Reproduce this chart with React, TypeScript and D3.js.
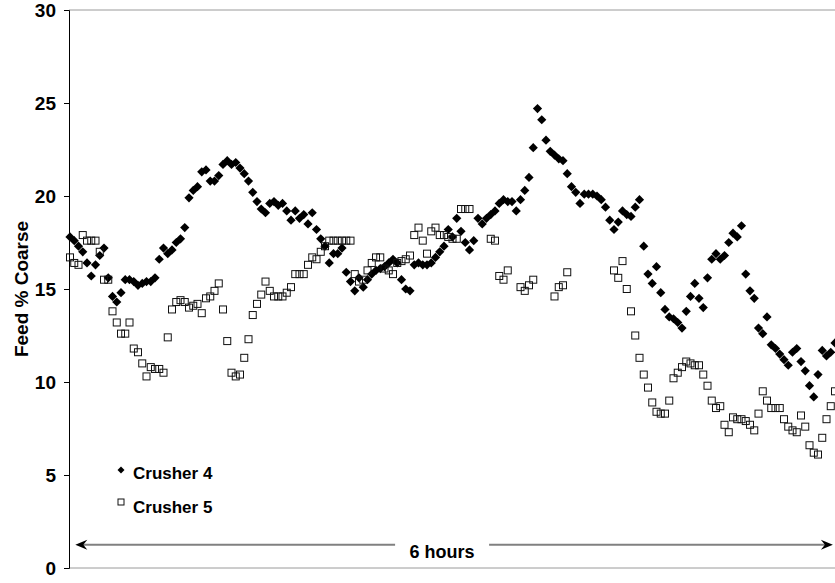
import React, { useEffect, useRef } from "react";
import * as d3 from "d3";

// one reading every 2 minutes over the 6 hour run
const sampleMinutes = 2;
const runMinutes = 360;

const yTicks = [0, 5, 10, 15, 20, 25, 30];

const seriesNames = ["Crusher 4", "Crusher 5"];

// Feed % coarse, Crusher 4
const crusher4 = [
  17.8, 17.6, 17.3, 17.0, 16.4, 15.7, 16.3, 16.8, 17.2, 15.6,
  14.6, 14.3, 14.8, 15.5, 15.5, 15.4, 15.2, 15.3, 15.4, 15.4,
  15.6, 16.6, 17.2, 16.9, 17.1, 17.5, 17.7, 18.3, 19.9, 20.3,
  20.5, 21.3, 21.4, 20.8, 20.8, 21.1, 21.7, 21.9, 21.7, 21.8,
  21.5, 21.2, 20.8, 20.2, 19.7, 19.3, 19.1, 19.6, 19.7, 19.5,
  19.6, 19.2, 18.7, 19.2, 18.8, 19.0, 18.5, 19.1, 18.2, 17.7,
  17.3, 16.4, 16.9, 16.9, 17.2, 15.9, 15.4, 14.9, 15.6, 15.1,
  15.5, 15.8, 16.0, 16.1, 16.2, 16.4, 16.6, 16.4, 15.5, 15.0,
  14.9, 16.3, 16.4, 16.3, 16.3, 16.4, 16.7, 17.0, 17.3, 18.2,
  17.8, 18.8, 18.1, 17.5, 17.1, 17.6, 18.8, 18.5, 18.8, 19.0,
  19.2, 19.6, 19.8, 19.7, 19.7, 19.2, 19.8, 20.3, 21.0, 22.6,
  24.7, 24.1, 23.0, 22.4, 22.2, 22.0, 21.9, 21.2, 20.5, 20.2,
  19.6, 20.1, 20.1, 20.1, 20.0, 19.8, 19.4, 18.7, 18.2, 18.6,
  19.2, 19.0, 18.9, 19.4, 19.8, 17.3, 15.8, 15.3, 16.2, 14.8,
  13.9, 13.5, 13.4, 13.2, 12.9, 13.8, 14.6, 15.3, 14.5, 14.0,
  15.6, 16.6, 16.9, 16.6, 16.8, 17.5, 18.0, 17.8, 18.4, 15.8,
  14.9, 14.5, 12.9, 12.6, 13.5, 12.0, 11.8, 11.5, 11.2, 10.9,
  11.6, 11.8, 11.1, 10.6, 9.8, 9.2, 10.4, 11.7, 11.4, 11.6,
  12.1,
];

// Feed % coarse, Crusher 5 (null = no reading)
const crusher5 = [
  16.7, 16.4, 16.3, 17.9, 17.6, 17.6, 17.6, 17.0, 15.5, 15.5,
  13.8, 13.2, 12.6, 12.6, 13.2, 11.8, 11.6, 11.0, 10.3, 10.8,
  10.7, 10.7, 10.5, 12.4, 13.9, 14.3, 14.4, 14.3, 14.0, 14.1,
  14.2, 13.7, 14.5, 14.6, 14.9, 15.3, 13.9, 12.2, 10.5, 10.3,
  10.4, 11.3, 12.3, 13.6, 14.2, 14.7, 15.4, 14.9, 14.6, 14.6,
  14.6, 14.8, 15.1, 15.8, 15.8, 15.8, 16.3, 16.7, 16.6, 17.0,
  17.3, 17.6, 17.6, 17.6, 17.6, 17.6, 17.6, 15.8, 15.4, 15.5,
  16.0, 16.4, 16.7, 16.7, 16.1, 16.0, 15.8, 16.4, 16.5, 16.6,
  16.8, 17.9, 18.3, 17.6, 16.9, 18.1, 18.3, 17.9, 17.9, 17.8,
  17.7, 17.7, 19.3, 19.3, 19.3, null, null, null, null, 17.7,
  17.6, 15.7, 15.5, 16.0, null, null, 15.1, 14.9, 15.2, 15.5,
  null, null, null, null, 14.6, 15.1, 15.2, 15.9, null, null,
  null, null, null, null, null, null, null, null, 16.0, 15.6,
  16.5, 15.0, 13.8, 12.5, 11.3, 10.4, 9.7, 8.9, 8.4, 8.3,
  8.3, 9.0, 10.2, 10.5, 10.8, 11.1, 11.0, 10.9, 10.9, 10.4,
  9.8, 9.0, 8.6, 8.7, 7.7, 7.3, 8.1, 8.0, 8.0, 7.9,
  7.7, 7.4, 8.3, 9.5, 9.0, 8.6, 8.6, 8.6, 8.0, 7.6,
  7.4, 7.3, 8.2, 7.6, 6.6, 6.2, 6.1, 7.0, 8.0, 8.7,
  9.5,
];

const spanLabel = "6 hours";
const yTitle = "Feed % Coarse";

const diamond = (r) => `M0,${-r}L${r},0L0,${r}L${-r},0Z`;

function App() {
  const chart = useRef(null);

  useEffect(() => {
    const width = 835;
    const height = 583;
    const margin = { top: 10, right: 0, bottom: 15, left: 69 };
    const font = "Arial, 'Liberation Sans', sans-serif";

    const svg = d3.select(chart.current)
      .attr("width", width)
      .attr("height", height);

    const x = d3.scaleLinear()
      .domain([0, runMinutes])
      .range([margin.left + 1, width]);

    const y = d3.scaleLinear()
      .domain([0, 30])
      .range([height - margin.bottom, margin.top]);

    // plot frame: grey top and bottom, black value axis
    svg.append("line")
      .attr("x1", margin.left).attr("x2", width)
      .attr("y1", y(30)).attr("y2", y(30))
      .attr("stroke", "#9a9a9a");
    svg.append("line")
      .attr("x1", margin.left).attr("x2", width)
      .attr("y1", y(0)).attr("y2", y(0))
      .attr("stroke", "#9a9a9a");

    const yAxis = d3.axisLeft(y)
      .tickValues(yTicks)
      .tickSize(5)
      .tickPadding(8)
      .tickFormat(d3.format("d"));

    const ax = svg.append("g")
      .attr("transform", `translate(${margin.left},0)`)
      .call(yAxis);
    ax.select(".domain").attr("stroke", "#000");
    ax.selectAll(".tick line").attr("stroke", "#000");
    ax.selectAll(".tick text")
      .attr("font-family", font)
      .attr("font-weight", "bold")
      .attr("font-size", 19)
      .attr("fill", "#000");

    svg.append("text")
      .attr("transform", `translate(21,${y(15)}) rotate(-90)`)
      .attr("text-anchor", "middle")
      .attr("dy", "0.35em")
      .attr("font-family", font)
      .attr("font-weight", "bold")
      .attr("font-size", 19)
      .text(yTitle);

    const c4 = crusher4.map((v, i) => ({ t: i * sampleMinutes, v }));
    const c5 = crusher5
      .map((v, i) => ({ t: i * sampleMinutes, v }))
      .filter(d => d.v !== null);

    svg.append("g")
      .selectAll("path")
      .data(c4)
      .enter()
      .append("path")
        .attr("d", diamond(4.6))
        .attr("transform", d => `translate(${x(d.t)},${y(d.v)})`)
        .attr("fill", "#000");

    svg.append("g")
      .selectAll("rect")
      .data(c5)
      .enter()
      .append("rect")
        .attr("x", d => x(d.t) - 3.5)
        .attr("y", d => y(d.v) - 3.5)
        .attr("width", 7)
        .attr("height", 7)
        .attr("fill", "none")
        .attr("stroke", "#111")
        .attr("stroke-width", 1);

    // legend
    const legend = svg.append("g").attr("transform", "translate(121,470)");
    legend.append("path")
      .attr("d", diamond(3.5))
      .attr("fill", "#000");
    legend.append("rect")
      .attr("x", -3).attr("y", 29)
      .attr("width", 6).attr("height", 6)
      .attr("fill", "none")
      .attr("stroke", "#111");
    legend.selectAll("text")
      .data(seriesNames)
      .enter()
      .append("text")
        .attr("x", 12)
        .attr("y", (d, i) => 3 + i * 34)
        .attr("dy", "0.35em")
        .attr("font-family", font)
        .attr("font-weight", "bold")
        .attr("font-size", 17)
        .text(d => d);

    // 6 hour span arrow
    const ay = y(1.25);
    const ax0 = x(2.5);
    const ax1 = x(runMinutes - 1);
    svg.append("line")
      .attr("x1", ax0 + 4).attr("x2", ax1 - 4)
      .attr("y1", ay).attr("y2", ay)
      .attr("stroke", "#808080")
      .attr("stroke-width", 2);
    svg.append("path")
      .attr("d", `M${ax0},${ay}L${ax0 + 12},${ay - 5}L${ax0 + 8},${ay}L${ax0 + 12},${ay + 5}Z`)
      .attr("fill", "#000");
    svg.append("path")
      .attr("d", `M${ax1},${ay}L${ax1 - 12},${ay - 5}L${ax1 - 8},${ay}L${ax1 - 12},${ay + 5}Z`)
      .attr("fill", "#000");

    const mid = (ax0 + ax1) / 2 - 12;
    svg.append("rect")
      .attr("x", mid - 47).attr("y", ay - 6)
      .attr("width", 94).attr("height", 22)
      .attr("fill", "#fff");
    svg.append("text")
      .attr("x", mid)
      .attr("y", ay + 7)
      .attr("dy", "0.35em")
      .attr("text-anchor", "middle")
      .attr("font-family", font)
      .attr("font-weight", "bold")
      .attr("font-size", 18)
      .text(spanLabel);

    return () => {
      svg.selectAll("*").remove();
    };
  }, []);

  return (
    <svg ref={chart} style={{ position: "absolute", left: 0, top: 0, background: "#fff" }}></svg>
  );
}

export default App;
